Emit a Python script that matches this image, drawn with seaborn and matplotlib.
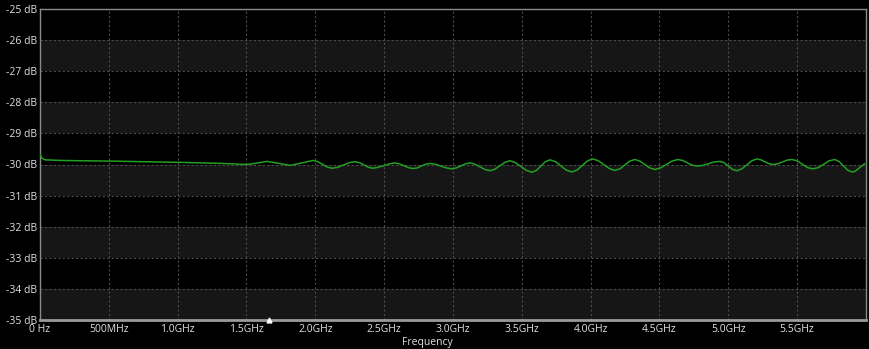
import matplotlib
matplotlib.use("Agg")
import matplotlib.pyplot as plt
import seaborn as sns
import pandas as pd
from matplotlib.ticker import FixedLocator, FixedFormatter

# ---- data ----
freq_ghz = [0.0, 0.015, 0.036, 0.15, 0.3, 0.51, 0.75, 1.0, 1.2, 1.35, 1.5, 1.57, 1.648, 1.73, 1.816, 1.90, 1.983,
            2.018, 2.086, 2.121, 2.163, 2.246, 2.288, 2.321, 2.386, 2.418, 2.458, 2.538, 2.578, 2.611, 2.676,
            2.709, 2.740, 2.801, 2.832, 2.872, 2.952, 2.992, 3.025, 3.090, 3.123, 3.159, 3.232, 3.268, 3.304,
            3.377, 3.413, 3.453, 3.533, 3.573, 3.606, 3.671, 3.704, 3.744, 3.823, 3.863, 3.901, 3.978, 4.016,
            4.056, 4.136, 4.176, 4.212, 4.285, 4.321, 4.357, 4.430, 4.466, 4.508, 4.591, 4.633, 4.668, 4.736,
            4.771, 4.813, 4.896, 4.938, 4.969, 5.031, 5.062, 5.098, 5.171, 5.207, 5.236, 5.294, 5.323, 5.358,
            5.426, 5.461, 5.499, 5.576, 5.614, 5.654, 5.733, 5.773, 5.804, 5.866, 5.897, 5.92, 5.96, 5.991]
level_db = [-29.68, -29.80, -29.85, -29.87, -29.88, -29.89, -29.91, -29.93, -29.95, -29.97, -30.00, -29.96, -29.90,
            -29.96, -30.03, -29.95, -29.87,
            -29.91, -30.08, -30.12, -30.09, -29.94, -29.91, -29.94, -30.09, -30.12, -30.09, -29.98, -29.95,
            -29.98, -30.10, -30.13, -30.11, -29.99, -29.97, -29.99, -30.11, -30.14, -30.11, -29.98, -29.95,
            -29.99, -30.16, -30.20, -30.15, -29.93, -29.88, -29.94, -30.19, -30.25, -30.19, -29.91, -29.85,
            -29.91, -30.18, -30.24, -30.18, -29.88, -29.82, -29.88, -30.13, -30.19, -30.14, -29.89, -29.84,
            -29.89, -30.11, -30.16, -30.11, -29.89, -29.84, -29.87, -30.02, -30.05, -30.03, -29.92, -29.90,
            -29.94, -30.16, -30.20, -30.14, -29.88, -29.82, -29.85, -29.97, -30.00, -29.98, -29.86, -29.84,
            -29.88, -30.10, -30.14, -30.10, -29.88, -29.84, -29.90, -30.18, -30.24, -30.22, -30.08, -29.97]

y_ticks = [-35, -34, -33, -32, -31, -30, -29, -28, -27, -26, -25]
y_labels = [f"{v} dB" for v in y_ticks]
x_ticks = [0.0, 0.5, 1.0, 1.5, 2.0, 2.5, 3.0, 3.5, 4.0, 4.5, 5.0, 5.5]
x_labels = ["0 Hz", "500MHz", "1.0GHz", "1.5GHz", "2.0GHz", "2.5GHz", "3.0GHz", "3.5GHz",
            "4.0GHz", "4.5GHz", "5.0GHz", "5.5GHz"]
x_label = "Frequency"
marker_freq = 1.66

# ---- style ----
sns.set_style("dark")
plt.rcParams["font.family"] = ["Open Sans", "DejaVu Sans"]

fig = plt.figure(figsize=(8.7, 3.49), dpi=100, facecolor="black")
ax = fig.add_axes([40 / 870, 1 - 320 / 349, 826 / 870, 311 / 349])
ax.set_facecolor("black")

for lo in range(-35, -25, 2):
    ax.axhspan(lo, lo + 1, color="#161616", zorder=0, lw=0)

df = pd.DataFrame({"f": freq_ghz, "db": level_db})
sns.lineplot(data=df, x="f", y="db", ax=ax, color="#22a022", lw=1.1, zorder=3)

ax.set_xlim(0, 6.0)
ax.set_ylim(-35, -25)
ax.xaxis.set_major_locator(FixedLocator(x_ticks))
ax.xaxis.set_major_formatter(FixedFormatter(x_labels))
ax.yaxis.set_major_locator(FixedLocator(y_ticks))
ax.yaxis.set_major_formatter(FixedFormatter(y_labels))
ax.grid(True, color="#4a4a4a", linestyle=(0, (2, 2)), linewidth=0.8, zorder=1)
ax.set_axisbelow(True)
ax.tick_params(axis="both", colors="#e0e0e0", labelsize=7.5, length=0)
ax.tick_params(axis="x", pad=3)
ax.tick_params(axis="y", pad=2)
ax.set_xlabel(x_label, color="#e0e0e0", fontsize=7.5, va="center")
ax.xaxis.set_label_coords((427 - 40) / 826, -(342 - 320) / 311)
ax.set_ylabel("")
for s in ax.spines.values():
    s.set_visible(True)
    s.set_color("#8a8a8a")
    s.set_linewidth(1.0)
ax.spines["bottom"].set_linewidth(2.0)
ax.spines["bottom"].set_color("#9a9a9a")

ax.plot([marker_freq], [-35], marker="^", color="white", markersize=3.5, clip_on=False, zorder=5)

fig.savefig("out.png", dpi=100, facecolor="black")
